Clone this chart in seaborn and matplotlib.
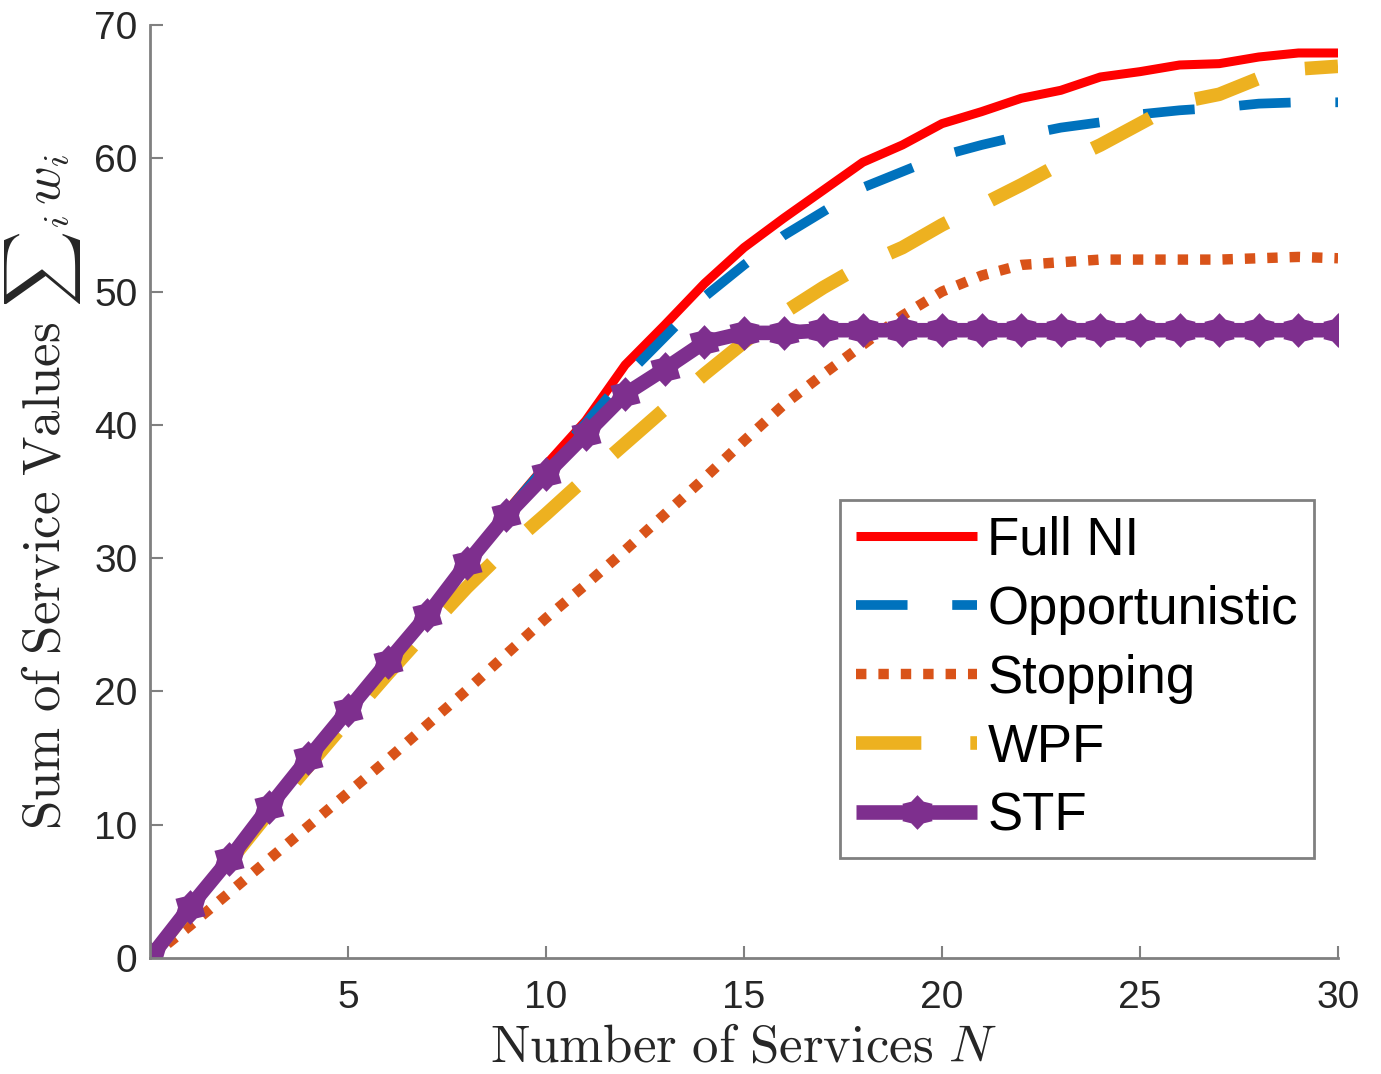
import numpy as np
import pandas as pd
import matplotlib
matplotlib.use("Agg")
import matplotlib.pyplot as plt
from matplotlib.path import Path
import seaborn as sns

N = list(range(0, 31))
full_ni = [0, 3.8, 7.4, 11.3, 15.0, 18.6, 22.2, 25.7, 29.6, 33.5, 37.0, 40.3, 44.5, 47.5, 50.6,
           53.3, 55.5, 57.6, 59.7, 61.0, 62.6, 63.5, 64.5, 65.1, 66.1, 66.5, 67.0, 67.1, 67.6, 67.9, 67.9]
opportunistic = [0, 3.8, 7.4, 11.3, 15.0, 18.6, 22.2, 25.7, 29.6, 33.4, 36.9, 40.1, 43.6, 46.6, 49.6,
                 52.0, 54.2, 56.0, 57.8, 59.0, 60.2, 61.0, 61.7, 62.3, 62.7, 63.3, 63.6, 63.8, 64.1, 64.2, 64.2]
stopping = [0, 2.4, 4.9, 7.4, 9.9, 12.4, 14.9, 17.5, 20.1, 22.8, 25.5, 28.0, 30.6, 33.3, 36.0,
            38.8, 41.5, 43.8, 46.0, 48.2, 50.0, 51.2, 52.0, 52.2, 52.4, 52.4, 52.4, 52.4, 52.5, 52.6, 52.5]
wpf = [0, 3.7, 7.2, 10.9, 14.4, 17.9, 21.3, 24.6, 27.8, 30.7, 33.3, 36.0, 38.6, 41.2, 43.8,
       46.2, 48.4, 50.3, 52.0, 53.3, 55.0, 56.5, 58.0, 59.6, 61.0, 62.6, 64.2, 64.8, 66.0, 66.7, 66.9]
stf = [0, 3.8, 7.4, 11.3, 15.0, 18.6, 22.2, 25.7, 29.6, 33.2, 36.3, 39.3, 42.3, 44.2, 46.2,
       46.9, 46.9, 47.1, 47.1, 47.1, 47.1, 47.1, 47.1, 47.1, 47.1, 47.1, 47.1, 47.1, 47.1, 47.1, 47.1]

series_names = ["Full NI", "Opportunistic", "Stopping", "WPF", "STF"]
series_values = [full_ni, opportunistic, stopping, wpf, stf]
x_ticks = [5, 10, 15, 20, 25, 30]
y_ticks = [0, 10, 20, 30, 40, 50, 60, 70]

sns.set_style("ticks")
plt.rcParams["mathtext.fontset"] = "cm"
plt.rcParams["font.family"] = ["Liberation Sans", "DejaVu Sans"]

# hexagram marker (six-pointed star)
ang = np.pi / 2 + np.arange(12) * np.pi / 6
rad = np.where(np.arange(12) % 2 == 0, 1.0, 0.72)
verts = np.column_stack([rad * np.cos(ang), rad * np.sin(ang)])
verts = np.vstack([verts, verts[:1]])
hexagram = Path(verts, [Path.MOVETO] + [Path.LINETO] * 11 + [Path.CLOSEPOLY])

fig = plt.figure(figsize=(13.81, 10.74), dpi=100)
ax = fig.add_axes([150 / 1381, 116 / 1074, 1188 / 1381, 933 / 1074])

styles = {
    "Full NI": dict(color="#FF0000", lw=6.5),
    "Opportunistic": dict(color="#0072BD", lw=7.0, dashes=(5.3, 4.6)),
    "Stopping": dict(color="#D95319", lw=7.5, dashes=(1.0, 1.15)),
    "WPF": dict(color="#EDB120", lw=9.8, dashes=(4.8, 3.6)),
    "STF": dict(color="#7E2F8E", lw=10.5, marker=hexagram, markersize=25, markeredgewidth=0),
}

for name, vals in zip(series_names, series_values):
    df = pd.DataFrame({"N": N, "val": vals})
    st = dict(styles[name])
    dashes = st.pop("dashes", None)
    ax = sns.lineplot(data=df, x="N", y="val", ax=ax, label=name, **st)
    ln = ax.lines[-1]
    if dashes is not None:
        ln.set_dashes(dashes)
        ln.set_dash_capstyle("butt")
    ln.set_solid_capstyle("butt")

ax.set_xlim(0, 30)
ax.set_ylim(0, 70)
ax.set_xticks(x_ticks)
ax.set_yticks(y_ticks)
ax.tick_params(direction="in", length=9, width=1.5, color="#808080",
               labelcolor="#262626", labelsize=28)
ax.tick_params(axis="x", pad=16)
ax.tick_params(axis="y", pad=9)
for s in ["top", "right"]:
    ax.spines[s].set_visible(False)
for s in ["left", "bottom"]:
    ax.spines[s].set_color("#808080")
    ax.spines[s].set_linewidth(2.0)

ax.set_xlabel(r"$\mathrm{Number\ of\ Services}\ N$", fontsize=38, color="#262626", labelpad=5)
ax.set_ylabel(r"$\mathrm{Sum\ of\ Service\ Values}\ {\sum}_{i}\, w_i$", fontsize=38,
              color="#262626", labelpad=8)

leg = ax.legend(loc="upper left", bbox_to_anchor=(0.581, 0.491), borderaxespad=0,
                fontsize=38, handlelength=2.3, handletextpad=0.19, labelspacing=0.36,
                borderpad=0.3, frameon=True, fancybox=False)
leg.get_frame().set_edgecolor("#808080")
leg.get_frame().set_linewidth(2.0)
leg.get_frame().set_alpha(1)
for t in leg.get_texts():
    t.set_color("black")

fig.savefig("out.png", dpi=100)
